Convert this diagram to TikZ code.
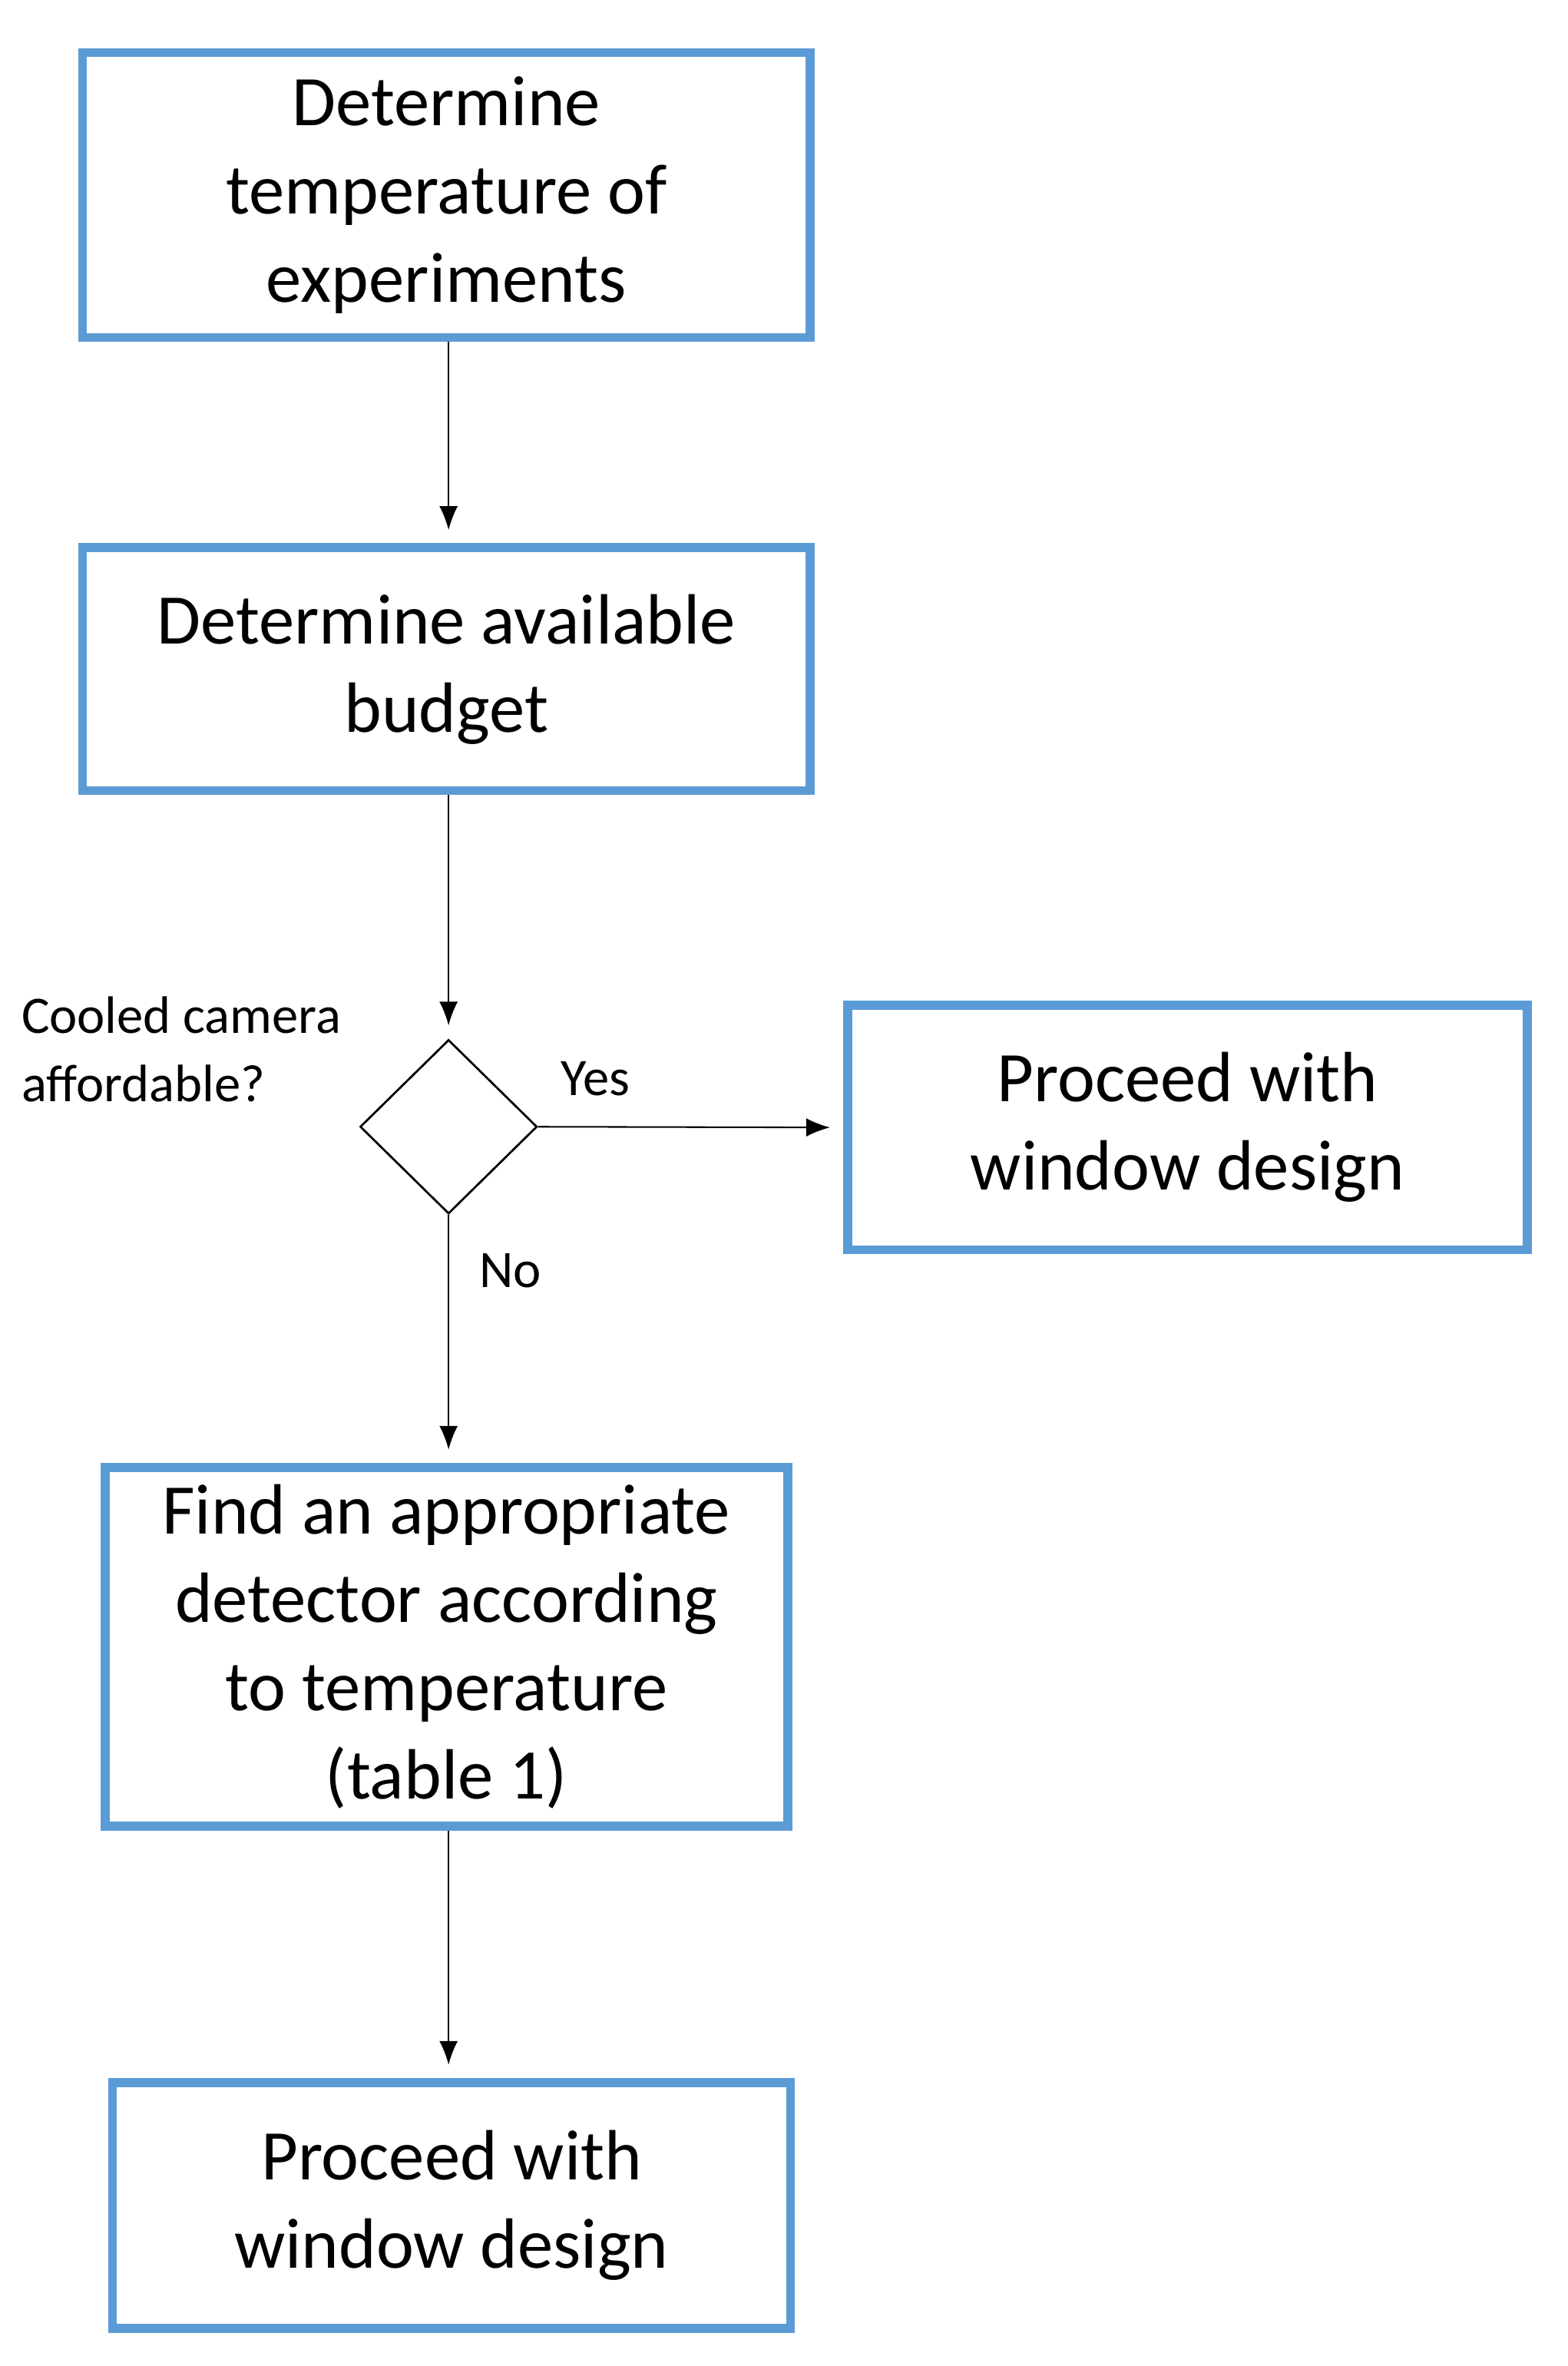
\documentclass[tikz,border=0pt]{standalone}
\usepackage{fontspec}
\setmainfont{Carlito}
\usetikzlibrary{shapes.geometric,arrows.meta}
\begin{document}
\begin{tikzpicture}[x=0.02cm,y=-0.02cm,
  box/.style={draw={rgb,255:red,91;green,155;blue,213},line width=3.4pt,align=center,font=\fontsize{27}{33.5}\selectfont,inner sep=0pt},
  arr/.style={-{Latex[length=9pt,width=7pt]},line width=0.6pt,shorten >=5pt},
  lbl/.style={font=\fontsize{20}{26}\selectfont}]
\useasboundingbox (0,0) rectangle (1045,1577);
\node[box,minimum width=485\pgflinewidth/\pgflinewidth*0.02cm,minimum height=190*0.02cm] (b1) at (297.5,130) {Determine\\temperature of\\experiments};
\node[box,minimum width=485*0.02cm,minimum height=162*0.02cm] (b2) at (297.5,446) {Determine available\\budget};
\node[draw,diamond,line width=0.8pt,minimum width=118*0.02cm,minimum height=116*0.02cm,inner sep=0pt] (d) at (299,751) {};
\node[box,minimum width=453*0.02cm,minimum height=163*0.02cm] (b3) at (791.5,751.5) {Proceed with\\window design};
\node[box,minimum width=455*0.02cm,minimum height=239*0.02cm] (b4) at (297.5,1097.5) {Find an appropriate\\detector according\\to temperature\\(table 1)};
\node[box,minimum width=452*0.02cm,minimum height=164*0.02cm] (b5) at (301,1470) {Proceed with\\window design};
\node[lbl,align=left,anchor=north west,inner sep=0pt] (q) at (14,664) {Cooled camera\\affordable?};
\node[lbl,inner sep=0pt] (yes) at (397,719) {Yes};
\node[lbl,inner sep=0pt] (no) at (340,847) {No};
\draw[arr] (b1.south -| 299,0) -- (b2.north -| 299,0);
\draw[arr] (b2.south -| 299,0) -- (d.north);
\draw[arr] (d.east) -- (b3.west);
\draw[arr] (d.south) -- (b4.north -| 299,0);
\draw[arr] (b4.south -| 299,0) -- (b5.north -| 299,0);
\end{tikzpicture}
\end{document}
